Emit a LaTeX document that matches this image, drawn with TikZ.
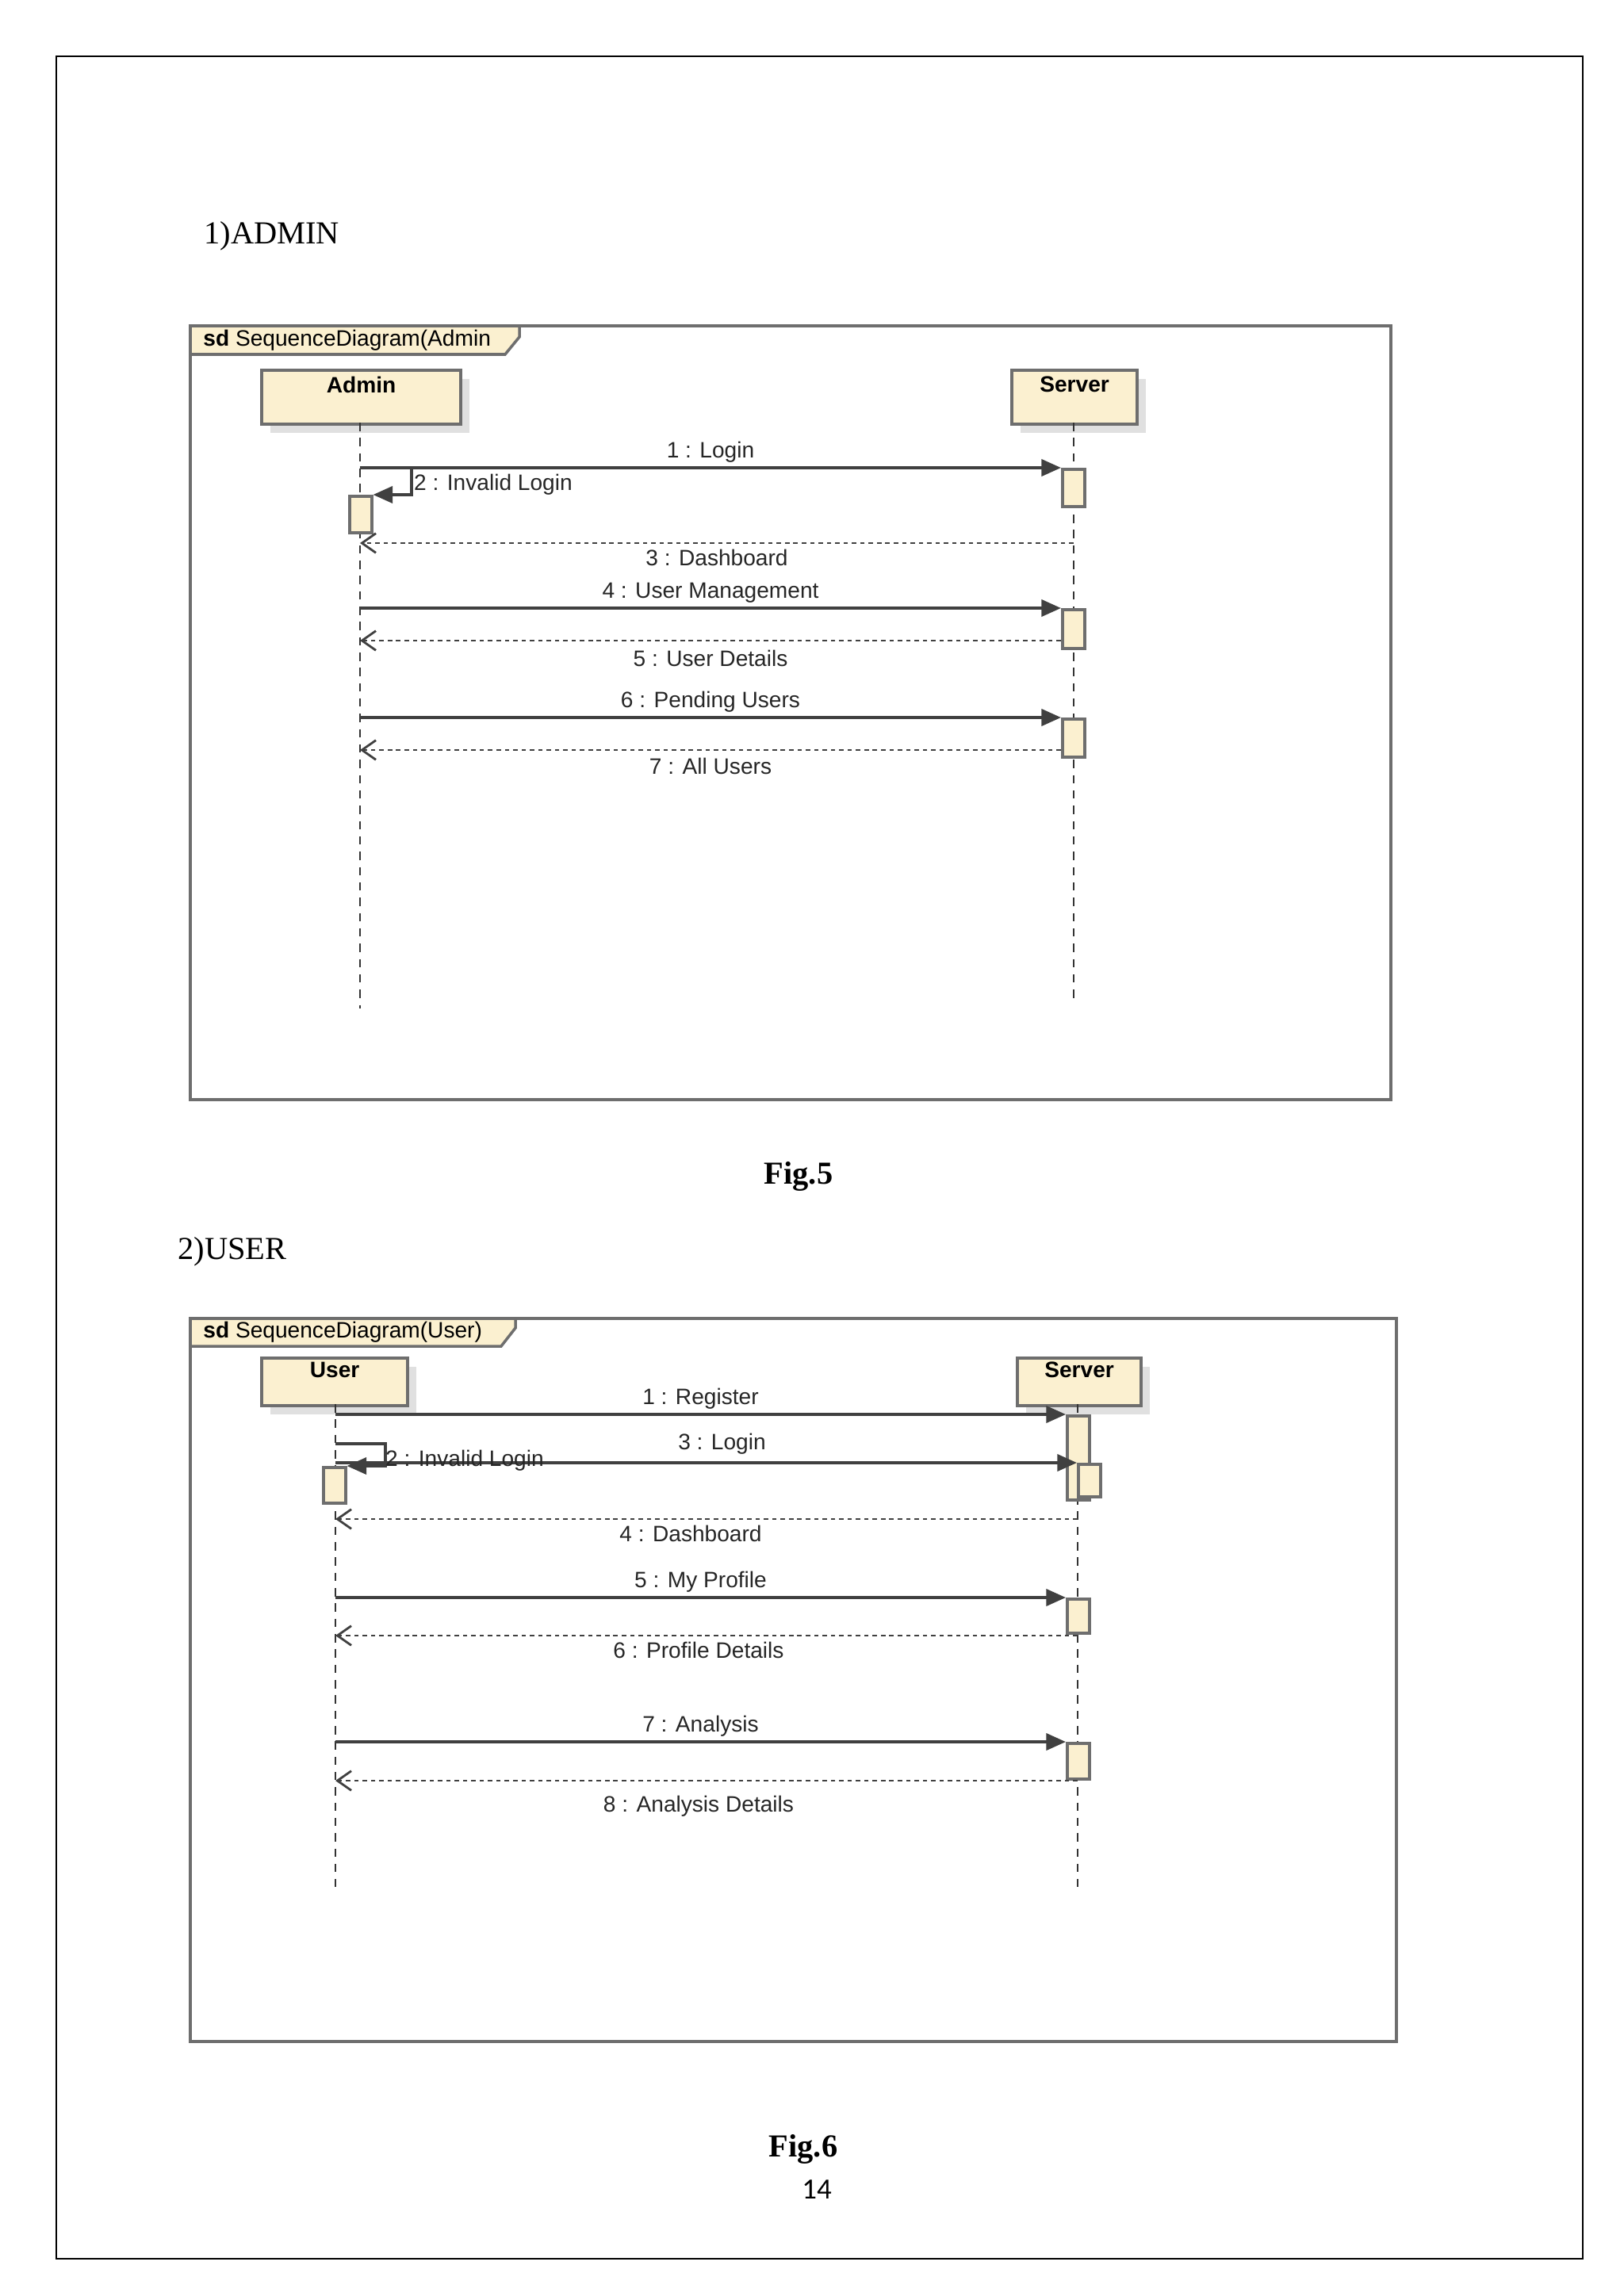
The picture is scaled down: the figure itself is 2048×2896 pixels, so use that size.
\documentclass[tikz,border=0pt]{standalone}
\usepackage{fontspec}
\setmainfont{Liberation Serif}
\newfontfamily\diag{Liberation Sans}
\newfontfamily\pagenum{Carlito}
\usetikzlibrary{arrows.meta,shadows}
\definecolor{cream}{HTML}{FBF0D0}
\definecolor{edge}{HTML}{6E6E6E}
\tikzset{
  actor/.style={draw=edge,line width=1.2pt,fill=cream,anchor=north west,inner sep=0pt,
    drop shadow={shadow xshift=3pt,shadow yshift=-3pt,fill=black!12,opacity=1}},
  actbar/.style={draw=edge,line width=1pt,fill=cream,anchor=north west,inner sep=0pt,minimum width=2.8mm},
  life/.style={draw=black!80,line width=0.6pt,dash pattern=on 3pt off 2.5pt},
  msg/.style={draw=black!75,line width=1pt,-{Triangle[length=7pt,width=6pt]}},
  ret/.style={draw=black!75,line width=0.8pt,dash pattern=on 1.6pt off 1.4pt,-{Straight Barb[length=5pt,width=7pt]}},
  lbl/.style={font=\diag\fontsize{8}{9}\selectfont,text=black!85,inner sep=1pt},
  head/.style={font=\fontsize{11.5}{13}\selectfont,anchor=west},
}
\begin{document}
\begin{tikzpicture}[x=0.1mm,y=-0.1mm]
\useasboundingbox (0,0) rectangle (2048,2896);
\draw[line width=0.8pt] (71,71) rectangle (1996,2849);
\node[head] (t1) at (245,298) {1)ADMIN};
\node[head] (t2) at (212,1579) {2)USER};
\node[font=\bfseries\fontsize{11.5}{13}\selectfont] (f5) at (1007,1484) {Fig.5};
\node[font=\bfseries\fontsize{11.5}{13}\selectfont] (f6) at (1013,2711) {Fig.6};
\node[font=\pagenum\fontsize{10.5}{12}\selectfont] (pn) at (1030,2762) {14};

% ---------- Figure 5 ----------
\draw[edge,line width=1.2pt] (240,411) rectangle (1754,1387);
\draw[edge,line width=1pt,fill=cream] (240,411) -- (655,411) -- (655,425) -- (637,447) -- (240,447) -- cycle;
\node[anchor=west,font=\diag\fontsize{8}{9}\selectfont] (sd1) at (244,429) {\textbf{sd}\ SequenceDiagram(Admin};
\node[actor,minimum width=25.1mm,minimum height=6.8mm] (admin) at (328,465) {};
\node[font=\diag\bfseries\fontsize{8}{9}\selectfont] at ([yshift=-2mm]admin.north) {Admin};
\node[actor,minimum width=15.8mm,minimum height=6.8mm] (server1) at (1274,465) {};
\node[font=\diag\bfseries\fontsize{8}{9}\selectfont] at ([yshift=-2mm]server1.north) {Server};
\coordinate (aE) at (454,1272); \coordinate (sE) at (1354,1262);
\draw[life] (454,533) -- (aE);
\draw[life] (1354,533) -- (sE);
\node[actbar,minimum height=4.7mm] (s1a) at (1338,590) {};
\node[actbar,minimum height=4.6mm] (a1a) at (439,624) {};
\node[actbar,minimum height=4.9mm] (s1b) at (1338,767) {};
\node[actbar,minimum height=4.8mm] (s1c) at (1338,905) {};
\coordinate (m1a) at (454,590);
\draw[msg] (m1a) -- node[lbl,above=0.5pt] {1 : Login} (s1a.north west);
\coordinate (m2a) at (519,590); \coordinate (m2b) at (519,624);
\draw[msg] (m1a) -- (m2a) -- (m2b) -- (a1a.north east);
\node[lbl,anchor=west] at (518,611) {2 : Invalid Login};
\coordinate (r3a) at (1354,685); \coordinate (r3b) at (454,685);
\draw[ret] (r3a) -- node[lbl,below=1pt] {3 : Dashboard} (r3b);
\coordinate (m4a) at (454,767);
\draw[msg] (m4a) -- node[lbl,above=0.5pt] {4 : User Management} (s1b.north west);
\coordinate (r5a) at (1338,808); \coordinate (r5b) at (454,808);
\draw[ret] (r5a) -- node[lbl,below=2pt] {5 : User Details} (r5b);
\coordinate (m6a) at (454,905);
\draw[msg] (m6a) -- node[lbl,above=0.5pt] {6 : Pending Users} (s1c.north west);
\coordinate (r7a) at (1338,946); \coordinate (r7b) at (454,946);
\draw[ret] (r7a) -- node[lbl,below=1.5pt] {7 : All Users} (r7b);

% ---------- Figure 6 ----------
\draw[edge,line width=1.2pt] (240,1663) rectangle (1761,2575);
\draw[edge,line width=1pt,fill=cream] (240,1663) -- (650,1663) -- (650,1675) -- (632,1698) -- (240,1698) -- cycle;
\node[anchor=west,font=\diag\fontsize{8}{9}\selectfont] (sd2) at (244,1680) {\textbf{sd}\ SequenceDiagram(User)};
\node[actor,minimum width=18.4mm,minimum height=6mm] (user) at (328,1711) {};
\node[font=\diag\bfseries\fontsize{8}{9}\selectfont] at ([yshift=-1.7mm]user.north) {User};
\node[actor,minimum width=15.6mm,minimum height=6mm] (server2) at (1281,1711) {};
\node[font=\diag\bfseries\fontsize{8}{9}\selectfont] at ([yshift=-1.7mm]server2.north) {Server};
\coordinate (uE) at (423,2380); \coordinate (s2E) at (1359,2380);
\draw[life] (423,1771) -- (uE);
\draw[life] (1359,1771) -- (s2E);
\node[actbar,minimum height=10.6mm] (u1a) at (1344,1784) {};
\node[actbar,minimum height=4.1mm] (u1b) at (1358,1845) {};
\node[actbar,minimum height=4.5mm] (ua) at (406,1849) {};
\node[actbar,minimum height=4.3mm] (u1c) at (1344,2015) {};
\node[actbar,minimum height=4.5mm] (u1d) at (1344,2197) {};
\coordinate (n1a) at (423,1784);
\draw[msg] (n1a) -- node[lbl,above=0.5pt] {1 : Register} (u1a.north west);
\coordinate (n2a) at (423,1821); \coordinate (n2b) at (486,1821); \coordinate (n2c) at (486,1849);
\draw[msg] (n2a) -- (n2b) -- (n2c) -- (ua.north east);
\coordinate (n3a) at (423,1845);
\draw[msg] (n3a) -- node[lbl,above=1.5pt,xshift=2mm] {3 : Login} (u1b.north west);
\node[lbl,anchor=west] at (482,1842) {2 : Invalid Login};
\coordinate (q4a) at (1359,1916); \coordinate (q4b) at (423,1916);
\draw[ret] (q4a) -- node[lbl,below=1pt,xshift=-2mm] {4 : Dashboard} (q4b);
\coordinate (n5a) at (423,2015);
\draw[msg] (n5a) -- node[lbl,above=0.5pt] {5 : My Profile} (u1c.north west);
\coordinate (q6a) at (1359,2063); \coordinate (q6b) at (423,2063);
\draw[ret] (q6a) -- node[lbl,below=1pt,xshift=-1mm] {6 : Profile Details} (q6b);
\coordinate (n7a) at (423,2197);
\draw[msg] (n7a) -- node[lbl,above=0.5pt] {7 : Analysis} (u1d.north west);
\coordinate (q8a) at (1359,2246); \coordinate (q8b) at (423,2246);
\draw[ret] (q8a) -- node[lbl,below=4pt,xshift=-1mm] {8 : Analysis Details} (q8b);
\end{tikzpicture}
\end{document}
